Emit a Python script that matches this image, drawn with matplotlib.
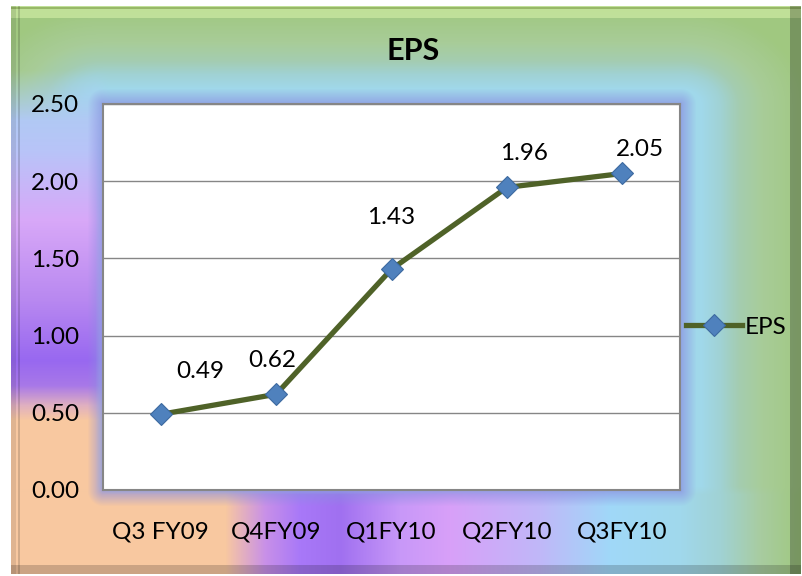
import numpy as np
import matplotlib.pyplot as plt
from matplotlib.colors import to_rgb

## Dati
quarters = ['Q3 FY09', 'Q4FY09', 'Q1FY10', 'Q2FY10', 'Q3FY10']
eps = [0.49, 0.62, 1.43, 1.96, 2.05]
yticks = [0.0, 0.5, 1.0, 1.5, 2.0, 2.5]

# spostamento etichette (pixel), come nell'originale
label_off = [(40, 43), (-4, 34), (0, 52), (17, 34), (18, 24)]

plt.rcParams['font.family'] = ['Lato', 'DejaVu Sans']

W, H = 802, 576
fig = plt.figure(figsize=(W / 100, H / 100), dpi=100)


def ramp(t, stops):
    # sfumatura a tappe: stops = [(posizione, colore), ...]
    pos = [s[0] for s in stops]
    cols = np.array([to_rgb(s[1]) for s in stops])
    return np.stack([np.interp(t, pos, cols[:, k]) for k in range(3)], axis=-1)


## Sfondo: alto/destra in base alla distanza dall'area del grafico,
## sinistra sfumata in verticale, basso sfumato in orizzontale
yy, xx = np.mgrid[0:H, 0:W].astype(float)
dx = np.maximum(np.maximum(103 - xx, 0), xx - 680)
dy = np.maximum(np.maximum(104 - yy, 0), yy - 490)
d = np.sqrt((0.75 * dx) ** 2 + dy ** 2)

bg = ramp(d, [(0, '#a0d8ec'), (16, '#a0d8ea'), (30, '#a0d2d4'),
              (44, '#a4ccb0'), (62, '#a8cc98'), (95, '#a0c880')])
left = ramp(yy, [(80, '#a8d0f0'), (150, '#b8c4f8'), (220, '#d8a8f8'),
                 (300, '#b888f0'), (360, '#9868f0'), (385, '#a878e8'),
                 (405, '#e0b0c0'), (420, '#f8c8a0'), (576, '#f8c8a0')])
bottom = ramp(xx, [(0, '#f8c8a0'), (225, '#f8c8a0'), (265, '#c890e8'),
                   (300, '#a878f8'), (340, '#a070f0'), (400, '#c898f8'),
                   (450, '#d8a0f8'), (540, '#c0b8f8'), (610, '#a0d8f8'),
                   (680, '#a0d8ec'), (720, '#a0d2d4'), (760, '#a8cca0'),
                   (800, '#a0c880')])
wl = (np.clip((yy - 70) / 50, 0, 1) * np.clip((110 - xx) / 15, 0, 1))[..., None]
bg = bg * (1 - wl) + left * wl
wb = np.clip((yy - 486) / 8, 0, 1)[..., None]
bg = bg * (1 - wb) + bottom * wb

# alone attorno all'area del grafico
dg = np.sqrt(dx ** 2 + dy ** 2)
a = (0.7 * np.clip(1 - dg / 16, 0, 1))[..., None]
bg = bg * (1 - a) + np.array(to_rgb('#8a8ee0')) * a

# bordo in rilievo
bg[6:18] = bg[6:18] * 0.5 + np.array(to_rgb('#e0f8b0')) * 0.5
bg[7:9] = to_rgb('#98b868')
bg[:, 790:] *= 0.75
bg[565:] *= 0.82
bg[:, 11:16] *= 0.9
bg[:, 18:20] *= 0.85
bg[:6] = 1.0
bg[:, :11] = 1.0
bg[574:] = 1.0
bg[:, 801:] = 1.0

ax_bg = fig.add_axes([0, 0, 1, 1], zorder=0)
ax_bg.imshow(np.clip(bg, 0, 1), aspect='auto', interpolation='bilinear')
ax_bg.axis('off')

## Grafico principale
ax = fig.add_axes([103 / W, 1 - 490 / H, 577 / W, 386 / H], zorder=1)
ax.set_facecolor('white')
x = np.arange(len(quarters))
ax.plot(x, eps, color='#4f6228', lw=3.8, marker='D', ms=11,
        mfc='#4f81bd', mec='#3d6aa0', mew=0.8, label='EPS')
for xi, v, off in zip(x, eps, label_off):
    ax.annotate('%.2f' % v, (xi, v), xytext=off, textcoords='offset pixels',
                ha='center', va='center', fontsize=17.5)

ax.set_xlim(-0.5, len(quarters) - 0.5)
ax.set_ylim(0, 2.5)
ax.set_yticks(yticks)
ax.set_yticklabels(['%.2f' % t for t in yticks])
ax.set_xticks(x)
ax.set_xticklabels(quarters)
ax.tick_params(length=0, labelsize=17.5)
ax.tick_params(axis='y', pad=17)
ax.tick_params(axis='x', pad=23)
ax.grid(axis='y', color='#868686', lw=1)
ax.set_axisbelow(True)
for s in ax.spines.values():
    s.set_color('#868686')
    s.set_linewidth(1.5)

ax.legend(loc='center left', bbox_to_anchor=(686 / W, 1 - 327 / H),
          bbox_transform=fig.transFigure, frameon=False, handlelength=2.3,
          handletextpad=0.1, borderpad=0, borderaxespad=0,
          prop={'size': 17.5})

fig.text(413 / W, 1 - 51 / H, 'EPS', ha='center', va='center',
         fontsize=22, fontweight='bold')

fig.savefig('out.png', dpi=100)
